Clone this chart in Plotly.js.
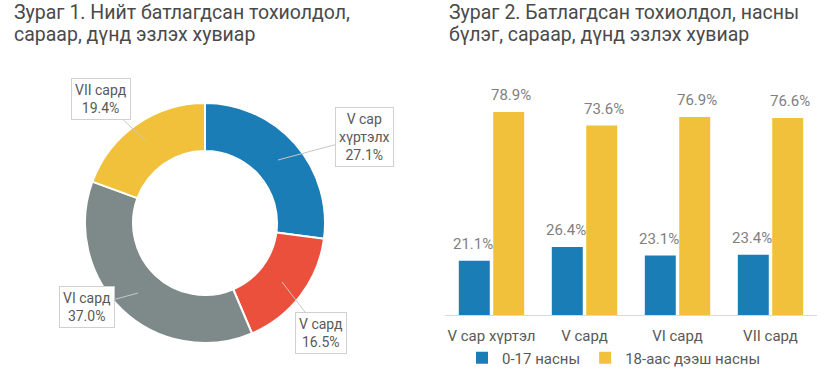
<!DOCTYPE html>
<html>
<head>
<meta charset="utf-8">
<script src="https://cdn.plot.ly/plotly-3.0.1.min.js"></script>
<style>html,body{margin:0;padding:0;background:#fff;}#chart{width:825px;height:387px;}</style>
</head>
<body>
<div id="chart"></div>
<script>
// ---- Data ----
const pieLabels = ['V сар хүртэлх', 'V сард', 'VI сард', 'VII сард'];
const pieValues = [27.1, 16.5, 37.0, 19.4];
const pieColors = ['#1a7db6', '#ea503b', '#7e8a89', '#f2c13b'];

const barCategories = ['V сар хүртэл', 'V сард', 'VI сард', 'VII сард'];
const seriesNames = ['0-17 насны', '18-аас дээш насны'];
const childValues = [21.1, 26.4, 23.1, 23.4];
const adultValues = [78.9, 73.6, 76.9, 76.6];

const title1 = ['Зураг 1. Нийт батлагдсан тохиолдол,', 'сараар, дүнд эзлэх хувиар'];
const title2 = ['Зураг 2. Батлагдсан тохиолдол, насны', 'бүлэг, сараар, дүнд эзлэх хувиар'];

// ---- Layout helpers ----
const W = 825, H = 387;
const px = x => x / W;
const py = y => 1 - y / H;
const FONT = 'Roboto, "Noto Sans", sans-serif';

const traces = [
  {
    type: 'pie',
    labels: pieLabels,
    values: pieValues,
    sort: false,
    direction: 'clockwise',
    hole: 0.6,
    textinfo: 'none',
    marker: {colors: pieColors, line: {color: '#ffffff', width: 2}},
    domain: {x: [px(85), px(325)], y: [py(343), py(103)]},
    showlegend: false,
    hoverinfo: 'label+percent'
  },
  {
    type: 'bar',
    name: seriesNames[0],
    x: barCategories,
    y: childValues,
    marker: {color: '#1a7db6'},
    xaxis: 'x', yaxis: 'y'
  },
  {
    type: 'bar',
    name: seriesNames[1],
    x: barCategories,
    y: adultValues,
    marker: {color: '#f2c13b'},
    xaxis: 'x', yaxis: 'y'
  }
];

const annotations = [];
// titles
[[title1, 12], [title2, 447]].forEach(([lines, x0]) => {
  lines.forEach((t, i) => {
    annotations.push({
      text: t, xref: 'paper', yref: 'paper',
      x: px(x0), y: py(12.5 + i * 22.5), xanchor: 'left', yanchor: 'middle',
      showarrow: false, font: {family: FONT, size: 19.5, color: '#4a4a4a'}
    });
  });
});

// pie callouts (arrow head inside slice, box offset)
const calloutGeo = [
  {hx: 278, hy: 160, ax: 86, ay: -23},
  {hx: 282, hy: 282, ax: 39, ay: 51},
  {hx: 138, hy: 293, ax: -51, ay: 14},
  {hx: 148, hy: 143, ax: -47, ay: -44}
];
pieLabels.forEach((lab, i) => {
  const g = calloutGeo[i];
  const txt = lab.replace('сар хүртэлх', 'сар<br>хүртэлх') + '<br>' + pieValues[i].toFixed(1) + '%';
  annotations.push({
    text: txt, xref: 'paper', yref: 'paper',
    x: px(g.hx), y: py(g.hy), ax: g.ax, ay: g.ay,
    showarrow: true, arrowhead: 0, arrowwidth: 1, arrowcolor: '#c8c8c8',
    bordercolor: '#d0d0d0', borderwidth: 1, borderpad: 3, bgcolor: '#ffffff',
    align: 'center',
    font: {family: FONT, size: 14, color: '#595959'}
  });
});

// bar value labels
[[childValues, -19], [adultValues, 19]].forEach(([vals, shift]) => {
  vals.forEach((v, i) => {
    annotations.push({
      text: v.toFixed(1) + '%', xref: 'x', yref: 'y',
      x: barCategories[i], y: v, xshift: shift, yshift: 6,
      yanchor: 'bottom', showarrow: false,
      font: {family: FONT, size: 15, color: '#7f7f7f'}
    });
  });
});

const layout = {
  width: W, height: H,
  margin: {l: 0, r: 0, t: 0, b: 0},
  paper_bgcolor: '#ffffff', plot_bgcolor: '#ffffff',
  font: {family: FONT, color: '#595959'},
  barmode: 'group',
  bargap: 0.26,
  bargroupgap: 0.1,
  xaxis: {
    domain: [px(445), px(817)],
    anchor: 'y',
    showline: true, linecolor: '#d9d9d9', linewidth: 1,
    showgrid: false, zeroline: false, ticks: '',
    ticklabelstandoff: 7,
    tickfont: {family: FONT, size: 15, color: '#595959'},
    fixedrange: true
  },
  yaxis: {
    domain: [py(315), py(83.4)],
    anchor: 'x',
    range: [0, 90],
    visible: false, showgrid: false, zeroline: false,
    fixedrange: true
  },
  showlegend: true,
  legend: {
    orientation: 'h',
    x: px(614), xanchor: 'center',
    y: py(358), yanchor: 'middle',
    font: {family: FONT, size: 15, color: '#595959'},
    itemwidth: 30,
    bgcolor: 'rgba(0,0,0,0)'
  },
  annotations: annotations
};

Plotly.newPlot('chart', traces, layout, {displayModeBar: false, staticPlot: true});
</script>
</body>
</html>
